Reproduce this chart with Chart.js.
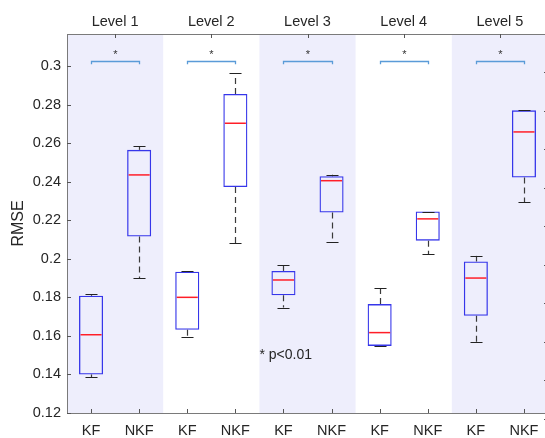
<!DOCTYPE html>
<html>
<head>
<meta charset="utf-8">
<script src="https://cdn.jsdelivr.net/npm/chart.js@4/dist/chart.umd.min.js"></script>
<style>
  html, body { margin: 0; padding: 0; overflow: hidden; background: #ffffff; }
  #wrap { width: 560px; height: 438px; }
</style>
</head>
<body>
<div id="wrap"><canvas id="c" width="560" height="438"></canvas></div>
<script>
// ---- data ----
const methodLabels = ['KF', 'NKF', 'KF', 'NKF', 'KF', 'NKF', 'KF', 'NKF', 'KF', 'NKF'];
const levelLabels = ['Level 1', 'Level 2', 'Level 3', 'Level 4', 'Level 5'];

const whiskerLow  = [0.1386, 0.1900, 0.1593, 0.2082, 0.1747, 0.2085, 0.1547, 0.2023, 0.1567, 0.2294];
const boxQ1       = [0.1400, 0.2115, 0.1632, 0.2372, 0.1811, 0.2240, 0.1548, 0.2094, 0.1704, 0.2421];
const boxMedian   = [0.1606, 0.2435, 0.1800, 0.2703, 0.1890, 0.2405, 0.1617, 0.2207, 0.1900, 0.2658];
const boxQ3       = [0.1808, 0.2565, 0.1933, 0.2855, 0.1937, 0.2428, 0.1765, 0.2245, 0.1986, 0.2770];
const whiskerHigh = [0.1815, 0.2585, 0.1938, 0.2962, 0.1966, 0.2436, 0.1846, 0.2245, 0.2015, 0.2770];

const yTickValues = [0.12, 0.14, 0.16, 0.18, 0.20, 0.22, 0.24, 0.26, 0.28, 0.30];
const yTickLabels = ['0.12', '0.14', '0.16', '0.18', '0.2', '0.22', '0.24', '0.26', '0.28', '0.3'];

// significance annotation (data units)
const bracketTopY = 0.3026;
const bracketEndY = 0.3009;
const sigStarY = 0.3041;
const sigStarText = '*';
const noteText = '* p<0.01';
const noteX = 3.5;
const noteY = 0.1501;

// ---- styling ----
const FONT = "'Liberation Sans', Arial, Helvetica, sans-serif";
const TEXT = '#262626';
const AXIS = '#7a7a7a';
const TICK = '#555555';

const crisp = v => Math.round(v) + 0.5;

const boxExtras = {
  id: 'boxExtras',
  beforeDraw(chart) {
    const { ctx, chartArea: a, scales: { x } } = chart;
    ctx.save();
    ctx.fillStyle = '#eeeefc';
    levelLabels.forEach((_, i) => {
      if (i % 2 === 0) {
        const l = x.getPixelForValue(2 * i - 0.5);
        const r = x.getPixelForValue(2 * i + 1.5);
        ctx.fillRect(l, a.top, r - l, a.bottom - a.top);
      }
    });
    ctx.restore();
  },
  afterDatasetsDraw(chart) {
    const { ctx, scales: { y } } = chart;
    const meta = chart.getDatasetMeta(0);
    ctx.save();
    meta.data.forEach((bar, i) => {
      const cx = crisp(bar.x);
      const w = bar.width;
      const yLo = y.getPixelForValue(whiskerLow[i]);
      const yQ1 = y.getPixelForValue(boxQ1[i]);
      const yQ3 = y.getPixelForValue(boxQ3[i]);
      const yHi = y.getPixelForValue(whiskerHigh[i]);
      const yMed = y.getPixelForValue(boxMedian[i]);
      // dashed whiskers
      ctx.strokeStyle = '#3a3a3a';
      ctx.lineWidth = 1.2;
      ctx.setLineDash([6, 4]);
      if (yQ3 - yHi > 1) {
        ctx.beginPath(); ctx.moveTo(cx, yQ3); ctx.lineTo(cx, yHi); ctx.stroke();
      }
      if (yLo - yQ1 > 1) {
        ctx.beginPath(); ctx.moveTo(cx, yQ1); ctx.lineTo(cx, yLo); ctx.stroke();
      }
      ctx.setLineDash([]);
      // caps
      ctx.strokeStyle = '#222222';
      ctx.lineWidth = 1.2;
      ctx.beginPath();
      ctx.moveTo(cx - w / 4, crisp(yHi)); ctx.lineTo(cx + w / 4, crisp(yHi));
      ctx.moveTo(cx - w / 4, crisp(yLo)); ctx.lineTo(cx + w / 4, crisp(yLo));
      ctx.stroke();
      // median
      ctx.strokeStyle = '#ff1e28';
      ctx.lineWidth = 1.5;
      ctx.beginPath();
      ctx.moveTo(bar.x - w / 2 + 1.5, yMed); ctx.lineTo(bar.x + w / 2 - 1.5, yMed);
      ctx.stroke();
    });
    ctx.restore();
  },
  afterDraw(chart) {
    const { ctx, chartArea: a, scales: { x, x2, y, y2 } } = chart;
    ctx.save();
    // inward tick marks
    ctx.strokeStyle = TICK;
    ctx.lineWidth = 1;
    ctx.beginPath();
    y.ticks.forEach(t => {
      const py = crisp(y.getPixelForValue(t.value));
      ctx.moveTo(a.left, py); ctx.lineTo(a.left + 4, py);
    });
    y2.ticks.forEach(t => {
      const py = crisp(y2.getPixelForValue(t.value));
      ctx.moveTo(a.right - 4, py); ctx.lineTo(a.right, py);
    });
    methodLabels.forEach((_, i) => {
      const px = crisp(x.getPixelForValue(i));
      ctx.moveTo(px, a.bottom); ctx.lineTo(px, a.bottom - 4);
    });
    levelLabels.forEach((_, i) => {
      const px = crisp(x2.getPixelForValue(i));
      ctx.moveTo(px, a.top); ctx.lineTo(px, a.top + 4);
    });
    ctx.stroke();

    // significance brackets + stars
    levelLabels.forEach((_, i) => {
      const xl = crisp(x.getPixelForValue(2 * i));
      const xr = crisp(x.getPixelForValue(2 * i + 1));
      const yt = crisp(y.getPixelForValue(bracketTopY));
      const yb = y.getPixelForValue(bracketEndY);
      ctx.strokeStyle = '#5a9bd8';
      ctx.lineWidth = 1.3;
      ctx.beginPath();
      ctx.moveTo(xl, yb); ctx.lineTo(xl, yt); ctx.lineTo(xr, yt); ctx.lineTo(xr, yb);
      ctx.stroke();
      ctx.fillStyle = '#333333';
      ctx.font = '11px ' + FONT;
      ctx.textAlign = 'center';
      ctx.textBaseline = 'alphabetic';
      ctx.fillText(sigStarText, (xl + xr) / 2, y.getPixelForValue(sigStarY));
    });

    // note
    ctx.fillStyle = TEXT;
    ctx.font = '14px ' + FONT;
    ctx.textAlign = 'left';
    ctx.textBaseline = 'middle';
    ctx.fillText(noteText, x.getPixelForValue(noteX), y.getPixelForValue(noteY));
    ctx.restore();
  }
};

new Chart(document.getElementById('c'), {
  type: 'bar',
  data: {
    labels: methodLabels,
    datasets: [{
      data: boxQ1.map((q, i) => [q, boxQ3[i]]),
      backgroundColor: 'rgba(0,0,0,0)',
      borderColor: '#3636ea',
      borderWidth: 1.3,
      borderSkipped: false,
      barPercentage: 0.5,
      categoryPercentage: 1.0,
      xAxisID: 'x',
      yAxisID: 'y'
    }]
  },
  options: {
    responsive: false,
    animation: false,
    devicePixelRatio: 1,
    layout: { padding: { left: 0, right: 12, top: 0, bottom: 0 } },
    plugins: { legend: { display: false }, tooltip: { enabled: false } },
    scales: {
      x: {
        type: 'category',
        position: 'bottom',
        offset: true,
        grid: { display: false, drawTicks: false },
        border: { display: true, color: AXIS, width: 1 },
        ticks: { color: TEXT, font: { family: FONT, size: 14.5 }, padding: 9, maxRotation: 0, autoSkip: false },
        afterFit: s => { s.height = 25; }
      },
      x2: {
        type: 'category',
        position: 'top',
        labels: levelLabels,
        offset: true,
        grid: { display: false, drawTicks: false },
        border: { display: true, color: AXIS, width: 1 },
        ticks: { color: TEXT, font: { family: FONT, size: 14.5 }, padding: 3, maxRotation: 0, autoSkip: false },
        afterFit: s => { s.height = 34; }
      },
      y: {
        position: 'left',
        min: 0.12,
        max: 0.3166,
        afterBuildTicks: s => { s.ticks = yTickValues.map(v => ({ value: v })); },
        grid: { display: false, drawTicks: false },
        border: { display: true, color: AXIS, width: 1 },
        ticks: {
          color: TEXT,
          font: { family: FONT, size: 14.5 },
          padding: 6,
          callback: (v, i) => yTickLabels[i]
        },
        title: {
          display: true,
          text: 'RMSE',
          color: TEXT,
          font: { family: FONT, size: 16 },
          padding: { top: 9, bottom: 0 }
        },
        afterFit: s => { s.width = 67; }
      },
      y2: {
        position: 'right',
        min: 0.12311,
        max: 0.31971,
        afterBuildTicks: s => { s.ticks = yTickValues.map(v => ({ value: v })); },
        grid: { display: false, drawTicks: false },
        border: { display: false },
        ticks: { display: false },
        afterFit: s => { s.width = 0; }
      }
    }
  },
  plugins: [boxExtras]
});
</script>
</body>
</html>
